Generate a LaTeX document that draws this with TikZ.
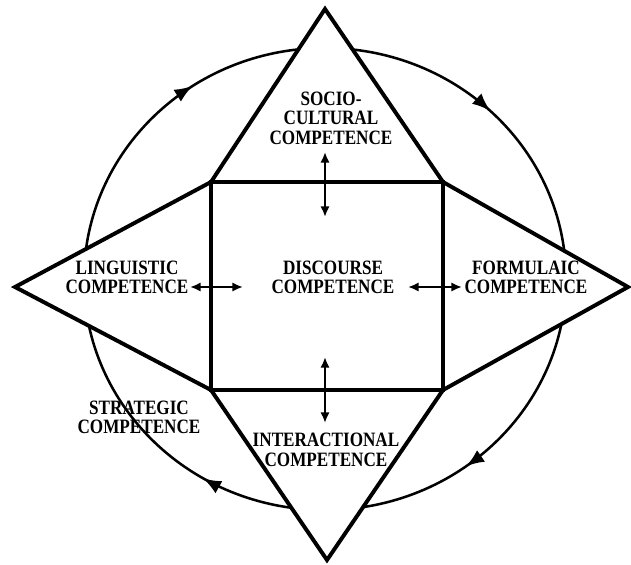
\documentclass[tikz,border=0pt]{standalone}
\usepackage{fontspec}
\setmainfont{Liberation Serif}[FakeStretch=0.84]
\usetikzlibrary{arrows.meta,decorations.markings}

\tikzset{
  comp/.style={font=\bfseries\fontsize{14.5}{13.9}\selectfont,align=center,inner sep=0pt},
  link/.style={{Latex[length=7.5pt,width=6.5pt]}-{Latex[length=7.5pt,width=6.5pt]},line width=1.7pt},
  frame/.style={line width=2.8pt,line join=miter},
  ring/.style={line width=1.8pt,postaction={decorate},
    decoration={markings,
      mark=at position 0.149 with {\arrow{Latex[length=13pt,width=10pt]}},
      mark=at position 0.336 with {\arrow{Latex[length=13pt,width=10pt]}},
      mark=at position 0.656 with {\arrow{Latex[length=13pt,width=10pt]}},
      mark=at position 0.872 with {\arrow{Latex[length=13pt,width=10pt]}}}}
}

\begin{document}
\begin{tikzpicture}[x=0.025cm,y=-0.025cm]
    \useasboundingbox (0,0) rectangle (631,565);
    \draw[ring] (325,279) ellipse (241 and 231);
    \filldraw[frame,fill=white] (325,9) -- (443,182) -- (628,287) -- (443,390)
        -- (327,560) -- (211,390) -- (15,287) -- (211,182) -- cycle;
    \draw[frame] (211,182) rectangle (443,390);

    \node[comp] (socio) at (331,118) {SOCIO-\\CULTURAL\\COMPETENCE};
    \node[comp] (linguistic) at (127,277.5) {LINGUISTIC\\COMPETENCE};
    \node[comp] (discourse) at (333,277.5) {DISCOURSE\\COMPETENCE};
    \node[comp] (formulaic) at (526,277.5) {FORMULAIC\\COMPETENCE};
    \node[comp] (strategic) at (139,417.5) {STRATEGIC\\COMPETENCE};
    \node[comp] (interactional) at (326,450) {INTERACTIONAL\\COMPETENCE};

    \coordinate (topa) at (325,152);
    \coordinate (topb) at (325,217);
    \coordinate (lefta) at (190,287);
    \coordinate (leftb) at (243,287);
    \coordinate (righta) at (408,287);
    \coordinate (rightb) at (462,287);
    \coordinate (bota) at (325,357);
    \coordinate (botb) at (325,423);
    \draw[link] (topa) -- (topb);
    \draw[link] (lefta) -- (leftb);
    \draw[link] (righta) -- (rightb);
    \draw[link] (bota) -- (botb);
\end{tikzpicture}
\end{document}
